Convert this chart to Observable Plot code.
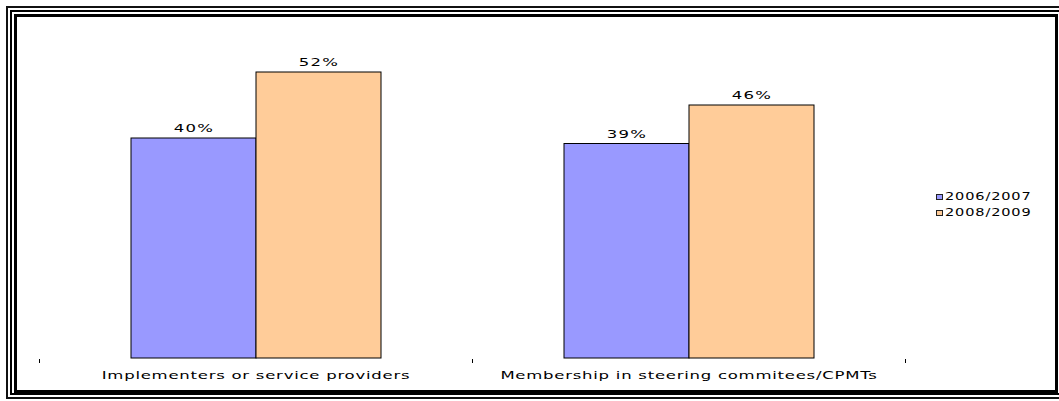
<!DOCTYPE html>
<html><head><meta charset="utf-8">
<script src="https://cdn.jsdelivr.net/npm/d3@7"></script>
<script src="https://cdn.jsdelivr.net/npm/@observablehq/plot@0.6"></script>
<style>
body{margin:0;background:#fff;width:1059px;height:401px;overflow:hidden;position:relative;font-family:"DejaVu Sans",sans-serif}
.f{position:absolute;box-sizing:border-box;border-style:solid;border-color:#000}
#chart{position:absolute;left:0;top:0;z-index:2}
#legend{position:absolute;left:936px;top:189px;z-index:3;font-size:10px;letter-spacing:0.6px;color:#000;line-height:16px}
#legend .it{display:flex;align-items:center;white-space:nowrap}
#legend .sw{width:7px;height:6px;box-sizing:border-box;border:1px solid #222;margin-right:2px}
#legend span{display:inline-block;transform:scaleX(1.45);transform-origin:left center}
</style></head>
<body>
<div class="f" style="left:6px;top:6px;width:1080px;height:393px;border-width:2px;border-color:#111"></div>
<div class="f" style="left:10px;top:10px;width:1080px;height:385px;border-width:2px"></div>
<div class="f" style="left:14px;top:14px;width:1044px;height:379px;border-width:3px"></div>
<div id="chart"></div>
<div id="legend"></div>
<script>
const categories = ["Implementers or service providers", "Membership in steering commitees/CPMTs"];
const series = ["2006/2007", "2008/2009"];
const values2006 = [40, 39];
const values2008 = [52, 46];
const colors = ["#9999FF", "#FFCC99"];

const data = categories.flatMap((c, i) => [
  {category: c, series: series[0], value: values2006[i]},
  {category: c, series: series[1], value: values2008[i]}
]);

const chart = Plot.plot({
  width: 1059, height: 401,
  marginLeft: 39, marginRight: 154, marginTop: 28, marginBottom: 43,
  style: {background: "transparent", fontFamily: "DejaVu Sans", fontSize: "11px", color: "#000", overflow: "visible"},
  facet: {data, x: "category"},
  fx: {domain: categories, padding: 0, label: null, axis: "bottom", tickSize: 0, tickPadding: 13},
  x: {domain: series, paddingInner: 0, paddingOuter: 0.732, axis: null},
  y: {domain: [0, 60], axis: null},
  color: {domain: series, range: colors},
  marks: [
    Plot.barY(data, {x: "series", y: "value", fill: "series", stroke: "#000", strokeWidth: 1}),
    Plot.text(data, {x: "series", y: "value", text: d => d.value + "%", dy: -10, fill: "#000", fontSize: 11})
  ]
});
document.getElementById("chart").appendChild(chart);

const svg = d3.select(chart.tagName.toLowerCase() === "svg" ? chart : chart.querySelector("svg"));

// horizontally stretched glyphs, as in the reference
function stretch(sel, k, ls) {
  sel.each(function() {
    this.style.letterSpacing = ls + "px";
    const b = this.getBBox();
    const cx = b.x + b.width / 2;
    const t = this.getAttribute("transform") || "";
    this.setAttribute("transform", `${t} translate(${cx},0) scale(${k},1) translate(${-cx},0)`);
  });
}
stretch(svg.selectAll('g[aria-label="text"] text'), 1.5, 0.8);
stretch(svg.selectAll('text').filter(function() { return !this.closest('g[aria-label="text"]'); }), 1.5, 0.5);

// boundary tick marks between categories
const fxs = chart.scale("fx");
const ys = chart.scale("y");
let fxApply = fxs.apply;
if (!fxApply) fxApply = d3.scaleBand().domain(fxs.domain).range(fxs.range).padding(0);
const bw = fxs.bandwidth !== undefined ? fxs.bandwidth : (fxs.range[1] - fxs.range[0]) / categories.length;
const y0 = ys.apply ? ys.apply(0) : d3.scaleLinear().domain(ys.domain).range(ys.range)(0);
const bounds = Array.from(new Set(categories.flatMap(c => [fxApply(c), fxApply(c) + bw])));
svg.append("g").selectAll("line").data(bounds).join("line")
  .attr("x1", d => Math.round(d) + 0.5).attr("x2", d => Math.round(d) + 0.5)
  .attr("y1", y0 + 1).attr("y2", y0 + 5)
  .attr("stroke", "#000").attr("stroke-width", 1);

// legend
const lg = d3.select("#legend");
series.forEach((s, i) => {
  const it = lg.append("div").attr("class", "it");
  it.append("div").attr("class", "sw").style("background", colors[i]);
  it.append("span").text(s);
});
</script>
</body></html>
